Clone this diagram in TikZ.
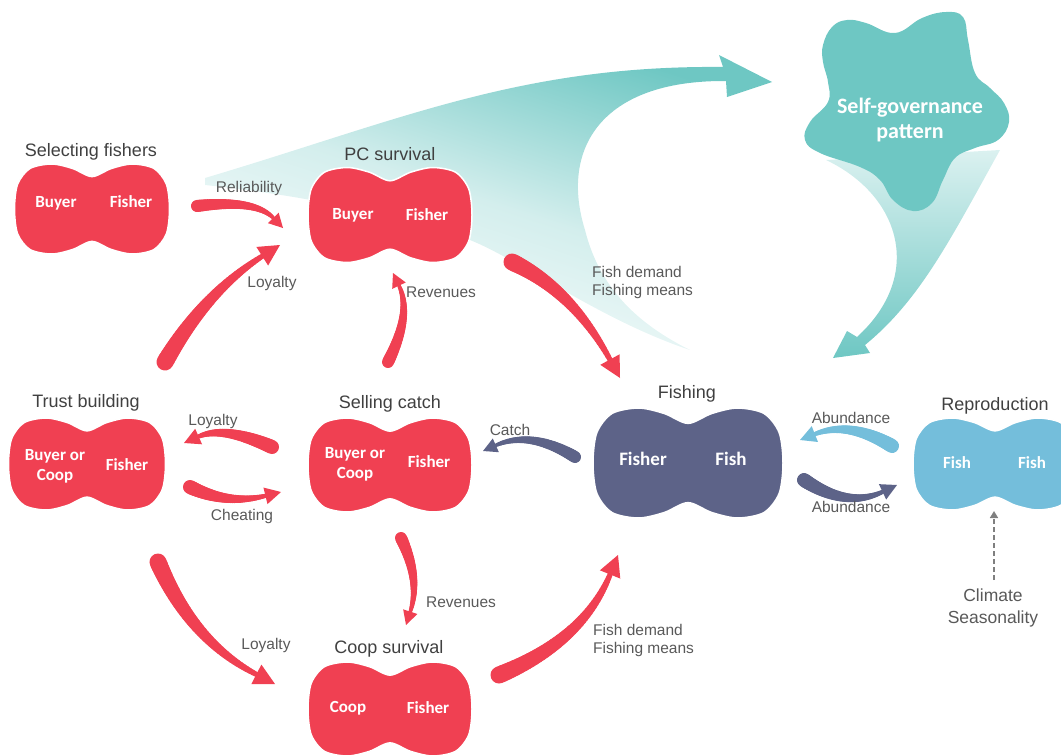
\documentclass[tikz,border=0pt]{standalone}
\usepackage{fontspec}
\setmainfont{Liberation Sans}
\newfontfamily\blobfont{Carlito}
\usetikzlibrary{calc,arrows.meta}
\definecolor{redc}{HTML}{F04052}
\definecolor{slatec}{HTML}{5D6388}
\definecolor{bluec}{HTML}{74BEDB}
\definecolor{tealc}{HTML}{6EC7C3}
\definecolor{titlec}{HTML}{404040}
\definecolor{labc}{HTML}{595959}
\definecolor{dashc}{HTML}{7F7F7F}

% tapered arrow: color, tail, bend point, tip, tail half width, (unused), end half width, head half width, head length
\newcommand\taper[9]{%
  \coordinate (tQ) at ($1.5*(#3)-0.25*(#2)-0.25*(#4)$);
  \coordinate (tB) at ($(#4)!#9pt!(tQ)$);
  \path (#2) .. controls ($(#2)!0.6667!(tQ)$) and ($(tB)!0.6667!(tQ)$) .. (tB)
    foreach \k [evaluate=\k as \p using \k/40] in {0,...,40} {coordinate[pos=\p] (tp\k)};
  \foreach \k [evaluate=\k as \kk using int(\k+1)] in {0,...,39}
    {\draw[#1, line cap=round, line width={2*(#5+(#7-#5)*\k/39)*1pt}] (tp\k) -- (tp\kk);}
  \fill[#1] (#4) -- ($(tB)!#8pt!90:(#4)$) -- ($(tB)!#8pt!-90:(#4)$) -- cycle;
}
\newcommand\bigtaper[4]{\taper{#1}{#2}{#3}{#4}{8.5}{5}{2.6}{11}{21}}
\newcommand\midtaper[4]{\taper{#1}{#2}{#3}{#4}{7}{4}{2.1}{8.5}{16}}
\newcommand\smalltaper[4]{\taper{#1}{#2}{#3}{#4}{6}{3.5}{1.8}{7.5}{14}}

\tikzset{
  title/.style={text=titlec, font=\fontsize{18}{21}\selectfont, inner sep=0, anchor=base},
  lab/.style={text=labc, font=\fontsize{15.5}{18.5}\selectfont, inner sep=0, anchor=base},
  lablines/.style={text=labc, font=\fontsize{15.5}{18.5}\selectfont, inner sep=0, anchor=north west, align=left},
  inlab/.style={text=white, font=\blobfont\bfseries\fontsize{17}{20}\selectfont, inner sep=0, anchor=base},
  inlablines/.style={text=white, font=\blobfont\bfseries\fontsize{17}{20}\selectfont, inner sep=0, anchor=north, align=center},
  biglab/.style={text=white, font=\blobfont\bfseries\fontsize{19}{22}\selectfont, inner sep=0, anchor=base},
  blob/.style={draw=white, line width=1.5pt},
  peanut/.pic={\path[pic actions] plot[smooth cycle] coordinates {
    (0,0.72) (0.25,0.9) (0.52,1) (0.8,0.9) (0.96,0.55) (1,0) (0.96,-0.55) (0.8,-0.9)
    (0.52,-1) (0.25,-0.9) (0,-0.72) (-0.25,-0.9) (-0.52,-1) (-0.8,-0.9) (-0.96,-0.55)
    (-1,0) (-0.96,0.55) (-0.8,0.9) (-0.52,1) (-0.25,0.9)};}
}

\begin{document}
\begin{tikzpicture}[x=1pt,y=-1pt]
\useasboundingbox (0,0) rectangle (1061,755);

% big teal arrow towards self-governance
\shade[top color=tealc, bottom color=white, middle color=tealc!30, shading angle=-18]
  (205,178) .. controls (400,120) and (520,65) .. (723,67)
  -- (719,55) -- (772,82) -- (727,97) -- (726,81)
  .. controls (600,80) and (560,150) .. (585,230)
  .. controls (600,290) and (640,325) .. (690,350)
  .. controls (600,320) and (520,260) .. (470,240)
  .. controls (400,215) and (300,195) .. (205,185) -- cycle;

% teal arrow from self-governance to fishing
\shade[top color=tealc!25, bottom color=tealc]
  (826,160) .. controls (900,195) and (925,275) .. (857,337)
  -- (847,331) -- (833,358) -- (870,353) -- (865,345)
  .. controls (920,300) and (950,240) .. (1000,150) -- cycle;

% self-governance star
\fill[tealc] plot[smooth cycle, tension=0.7] coordinates {
  (823,62) (823,45) (832,27) (847,20) (866,23) (895,33) (922,18) (946,12)
  (963,17) (968,40) (975,73) (990,88) (1004,103) (1009,122) (998,140)
  (975,148) (955,158) (943,180) (932,203) (913,211) (893,200) (880,180)
  (860,167) (820,153) (805,140) (810,122) (828,102) (828,82)};
\node[text=white, font=\blobfont\bfseries\fontsize{22}{25}\selectfont, align=center, inner sep=0, anchor=north] (sg) at (910,98) {Self-governance\\pattern};

% arrow coordinates (tail, bend, tip)
\coordinate (relT) at (197,206); \coordinate (relC) at (250,205); \coordinate (relE) at (283,228);
\coordinate (loy1T) at (165,362); \coordinate (loy1C) at (211,296); \coordinate (loy1E) at (280,245);
\coordinate (rev1T) at (388,362); \coordinate (rev1C) at (405,315); \coordinate (rev1E) at (393,273);
\coordinate (fd1T) at (512,262); \coordinate (fd1C) at (570,300); \coordinate (fd1E) at (620,378);
\coordinate (loy2T) at (272,447); \coordinate (loy2C) at (225,432); \coordinate (loy2E) at (184,443);
\coordinate (chT) at (190,487); \coordinate (chC) at (230,500); \coordinate (chE) at (281,492);
\coordinate (caT) at (575,457); \coordinate (caC) at (530,438); \coordinate (caE) at (483,451);
\coordinate (rev2T) at (401,538); \coordinate (rev2C) at (415,580); \coordinate (rev2E) at (406,625);
\coordinate (loy3T) at (158,562); \coordinate (loy3C) at (200,635); \coordinate (loy3E) at (275,684);
\coordinate (fd2T) at (499,675); \coordinate (fd2C) at (575,632); \coordinate (fd2E) at (618,555);
\coordinate (ab1T) at (892,446); \coordinate (ab1C) at (848,428); \coordinate (ab1E) at (800,440);
\coordinate (ab2T) at (804,480); \coordinate (ab2C) at (848,500); \coordinate (ab2E) at (897,485);
\coordinate (clS) at (994,580); \coordinate (clE) at (994,511);

\smalltaper{redc}{relT}{relC}{relE}
\bigtaper{redc}{loy1T}{loy1C}{loy1E}
\smalltaper{redc}{rev1T}{rev1C}{rev1E}
\bigtaper{redc}{fd1T}{fd1C}{fd1E}
\midtaper{redc}{loy2T}{loy2C}{loy2E}
\midtaper{redc}{chT}{chC}{chE}
\smalltaper{slatec}{caT}{caC}{caE}
\smalltaper{redc}{rev2T}{rev2C}{rev2E}
\bigtaper{redc}{loy3T}{loy3C}{loy3E}
\bigtaper{redc}{fd2T}{fd2C}{fd2E}
\midtaper{bluec}{ab1T}{ab1C}{ab1E}
\midtaper{slatec}{ab2T}{ab2C}{ab2E}
\draw[dashc, line width=1.6pt, dash pattern=on 5pt off 3pt, -{Triangle[length=7pt,width=8pt]}] (clS) -- (clE);

% blobs
\pic[fill=redc, blob, xscale=77.5, yscale=45] at (92,209) {peanut};
\pic[fill=redc, blob, xscale=82, yscale=47.5] at (390,215) {peanut};
\pic[fill=redc, blob, xscale=78.5, yscale=46] at (87,464) {peanut};
\pic[fill=redc, blob, xscale=82, yscale=47] at (390,465) {peanut};
\pic[fill=redc, blob, xscale=82, yscale=47] at (390,709) {peanut};
\pic[fill=slatec, blob, xscale=95, yscale=55] at (688,463) {peanut};
\pic[fill=bluec, blob, xscale=82, yscale=46] at (995,464) {peanut};

% titles
\node[title] (tsel) at (91,156) {Selecting fishers};
\node[title] (tpc) at (390,160) {PC survival};
\node[title] (ttrust) at (86,407) {Trust building};
\node[title] (tsell) at (390,408) {Selling catch};
\node[title] (tcoop) at (389,653) {Coop survival};
\node[title] (tfish) at (687,398) {Fishing};
\node[title] (trep) at (995,410) {Reproduction};

% inner labels
\node[inlab] (selb) at (56,207) {Buyer};
\node[inlab] (self) at (131,207) {Fisher};
\node[inlab] (pcb) at (353,219) {Buyer};
\node[inlab] (pcf) at (427,220) {Fisher};
\node[inlablines] (trb) at (55,449) {Buyer or\\Coop};
\node[inlab] (trf) at (127,470) {Fisher};
\node[inlablines] (scb) at (355,447) {Buyer or\\Coop};
\node[inlab] (scf) at (429,467) {Fisher};
\node[inlab] (cpc) at (348,712) {Coop};
\node[inlab] (cpf) at (428,713) {Fisher};
\node[biglab] (fif) at (643,465) {Fisher};
\node[biglab] (fis) at (731,465) {Fish};
\node[inlab] (rf1) at (957,468) {Fish};
\node[inlab] (rf2) at (1032,468) {Fish};

% edge labels
\node[lab] (lrel) at (249,192) {Reliability};
\node[lab] (lloy1) at (272,287) {Loyalty};
\node[lab] (lrev1) at (441,297) {Revenues};
\node[lablines] (lfd1) at (592,266) {Fish demand\\Fishing means};
\node[lab] (lloy2) at (213,425) {Loyalty};
\node[lab] (lch) at (242,520) {Cheating};
\node[lab] (lca) at (510,435) {Catch};
\node[lab] (lab1) at (851,423) {Abundance};
\node[lab] (lab2) at (851,512) {Abundance};
\node[lab] (lrev2) at (461,607) {Revenues};
\node[lab] (lloy3) at (266,649) {Loyalty};
\node[lablines] (lfd2) at (593,624) {Fish demand\\Fishing means};
\node[text=labc, font=\fontsize{17.5}{22}\selectfont, inner sep=0, anchor=north, align=center] (lcl) at (993,589) {Climate\\Seasonality};
\end{tikzpicture}
\end{document}
